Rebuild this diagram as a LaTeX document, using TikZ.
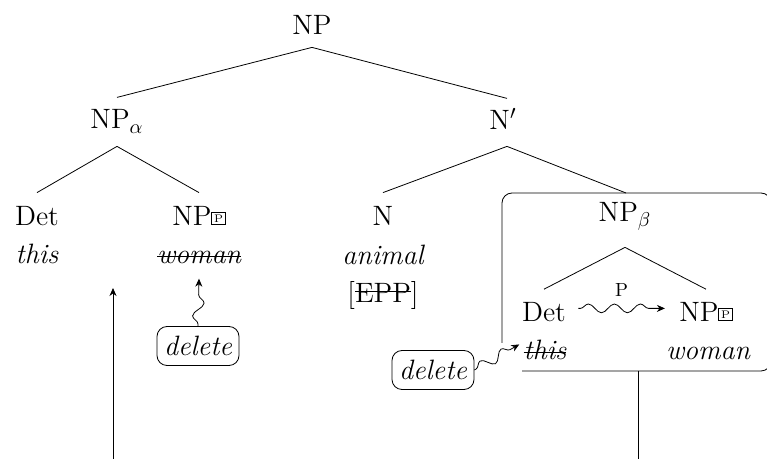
\documentclass[tikz,border=0pt]{standalone}
\usetikzlibrary{decorations.pathmorphing,arrows.meta}
\newcommand{\pbox}{\raisebox{1.8pt}{\setlength{\fboxsep}{0.9pt}\setlength{\fboxrule}{0.4pt}\fbox{\fontsize{5.5}{6}\selectfont P}}}
\newcommand{\strike}[2][0.55ex]{\setbox0\hbox{#2}\rlap{\rule[#1]{\wd0}{0.5pt}}\box0}
\tikzset{
  cat/.style={inner sep=0pt, anchor=base, text height=9.6pt, text depth=0pt, font=\fontsize{14}{16}\selectfont},
  word/.style={inner sep=0pt, anchor=base, font=\fontsize{14}{16}\selectfont\itshape},
  delbox/.style={draw, rounded corners=5pt, minimum width=41pt, minimum height=19.5pt, inner sep=1pt, font=\fontsize{14}{16}\selectfont\itshape},
  wiggle/.style={decorate, decoration={snake, amplitude=2.8pt, segment length=13pt, pre length=1pt, post length=3pt}, -{Stealth[length=4pt,width=3.5pt]}}
}
\begin{document}
\begin{tikzpicture}[x=0.5pt,y=-0.5pt]
  \useasboundingbox (0,0) rectangle (767,459);
  \clip (0,0) rectangle (767,459);
  % top of the tree
  \node[cat] (np) at (312,35) {NP};
  \node[cat] (npa) at (117,129) {NP$_\alpha$};
  \node[cat] (nbar) at (503,130) {N$'$};
  \path ([yshift=-6pt]np.south) coordinate (npfoot);
  \draw (npfoot) -- ([yshift=6pt]npa.north);
  \draw (npfoot) -- ([xshift=2pt,yshift=6pt]nbar.north);
  % left NP
  \node[cat] (det) at (37,226) {Det};
  \node[word] (this) at (37,264) {this};
  \node[cat] (npw) at (199,226) {NP\pbox};
  \node[word] (woman) at (199,264) {\strike{woman}};
  \draw ([yshift=-8.5pt]npa.south) coordinate (npafoot) -- ([yshift=6.9pt]det.north);
  \draw (npafoot) -- ([yshift=6.9pt]npw.north);
  % noun
  \node[cat] (n) at (383,226) {N};
  \node[word] (animal) at (383,265) {animal};
  \node[cat] (epp) at (383,303) {[\strike[0.9ex]{EPP}]};
  \draw ([xshift=2pt,yshift=-8pt]nbar.south) coordinate (nbarfoot) -- ([yshift=6.9pt]n.north);
  % boxed NP
  \node[cat] (npb) at (625,222) {NP$_\beta$};
  \coordinate (boxtop) at (626,193);
  \draw (nbarfoot) -- (boxtop);
  \node[cat] (detb) at (544,322) {Det};
  \node[word] (thisb) at (545,360) {\strike{this}};
  \node[cat] (npwb) at (706,322) {NP\pbox};
  \node[word] (womanb) at (708,360) {woman};
  \draw ([yshift=-12.5pt]npb.south) coordinate (npbfoot) -- ([yshift=6.6pt]detb.north);
  \draw (npbfoot) -- ([yshift=6.6pt]npwb.north);
  \draw[rounded corners=5pt] (502,343) -- (502,193) -- (771,193) -- (771,371) -- (522,371);
  \draw[wiggle, decoration={amplitude=2.2pt, segment length=13pt}] ([xshift=6pt,yshift=2pt]detb.east) -- node[above=2.5pt, font=\fontsize{9.5}{10}\selectfont] {P} ([xshift=-7pt,yshift=2pt]npwb.west);
  % deletion
  \node[delbox] (del1) at (198,346) {delete};
  \node[delbox] (del2) at (433,370) {delete};
  \draw[wiggle] (del1.north) -- ([yshift=-7pt]woman.south);
  \draw[wiggle, decoration={segment length=12pt, amplitude=2.5pt}] (del2.east) -- ([xshift=-2pt,yshift=3pt]thisb.west);
  % movement
  \coordinate (lbot) at (113,470);
  \coordinate (ltop) at (113,288);
  \coordinate (boxmid) at (638,371);
  \coordinate (rbot) at (638,470);
  \draw[-{Stealth[length=4pt,width=3.5pt]}] (lbot) -- (ltop);
  \draw (boxmid) -- (rbot);
\end{tikzpicture}
\end{document}
